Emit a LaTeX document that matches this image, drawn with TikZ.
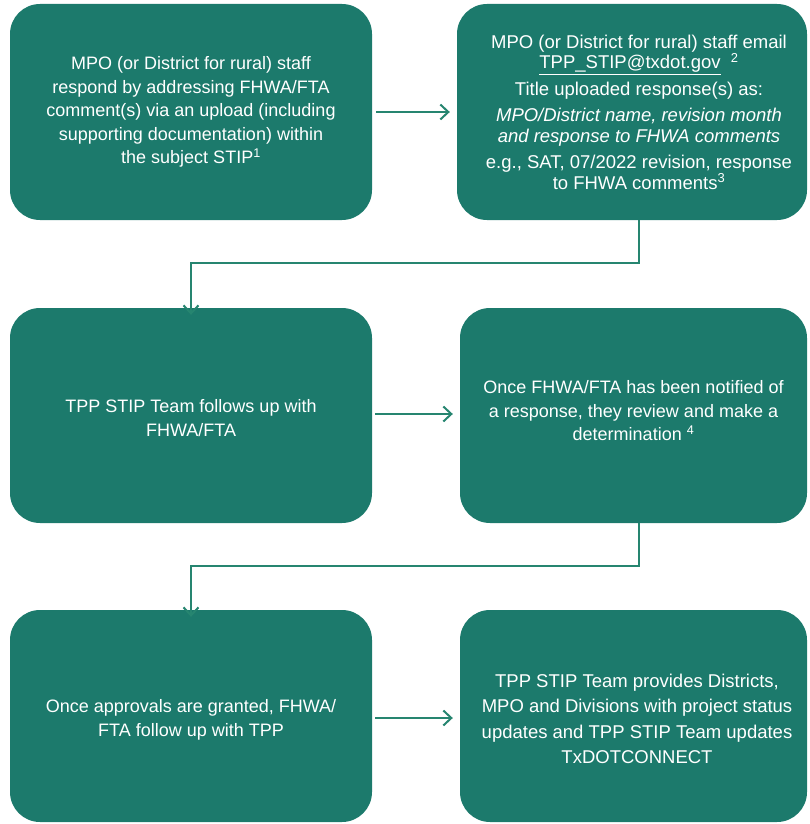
\documentclass[tikz,border=0pt]{standalone}
\usepackage{fontspec}
\setmainfont{Liberation Sans}
\usetikzlibrary{arrows.meta}
\definecolor{boxteal}{RGB}{28,122,108}
\definecolor{linkteal}{RGB}{38,133,112}
\begin{document}
\begin{tikzpicture}[x=1pt,y=-1pt,
  stepbox/.style={fill=boxteal, draw=none, rounded corners=30pt, text=white,
    align=center, font=\fontsize{18}{23.5}\selectfont, inner sep=0pt},
  flow/.style={draw=linkteal, line width=2pt,
    -{Straight Barb[length=8pt,width=15pt,line width=2pt]}}]
\useasboundingbox (0,0) rectangle (809,824);
% boxes
\node[stepbox, minimum width=362pt, minimum height=216pt] (b1) at (191,112) {};
\node[stepbox, minimum width=350pt, minimum height=216pt] (b2) at (632,112) {};
\node[stepbox, minimum width=362pt, minimum height=215pt] (b3) at (191,415.5) {};
\node[stepbox, minimum width=347pt, minimum height=215pt] (b4) at (633.5,415.5) {};
\node[stepbox, minimum width=362pt, minimum height=212pt] (b5) at (191,716) {};
\node[stepbox, minimum width=347pt, minimum height=212pt] (b6) at (633.5,716) {};
% texts
\node[stepbox, fill=none] (t1) at (191,112) {MPO (or District for rural) staff\\respond by addressing FHWA/FTA\\comment(s) via an upload (including\\supporting documentation) within\\the subject STIP\textsuperscript{1}};
\node[stepbox, fill=none, font=\fontsize{18.5}{20.5}\selectfont] (t2) at (639,112) {MPO (or District for rural) staff email\\\underline{TPP\_STIP@txdot.gov}\ \ \textsuperscript{2}\\[6pt]Title uploaded response(s) as:\\[6pt]\textit{MPO/District name, revision month}\\\textit{and response to FHWA comments}\\[6pt]e.g., SAT, 07/2022 revision, response\\to FHWA comments\textsuperscript{3}};
\node[stepbox, fill=none] (t3) at (191,418) {TPP STIP Team follows up with\\FHWA/FTA};
\node[stepbox, fill=none] (t4) at (633.5,411) {Once FHWA/FTA has been notified of\\a response, they review and make a\\determination \textsuperscript{4}};
\node[stepbox, fill=none] (t5) at (191,720) {Once approvals are granted, FHWA/\\FTA follow up with TPP};
\node[stepbox, fill=none, font=\fontsize{18.5}{25.5}\selectfont] (t6) at (637,719) {TPP STIP Team provides Districts,\\MPO and Divisions with project status\\updates and TPP STIP Team updates\\TxDOTCONNECT};
% connectors
\coordinate (k1) at (639,263);
\coordinate (k2) at (191,263);
\coordinate (k3) at (639,566);
\coordinate (k4) at (191,566);
\draw[flow] (b1.east |- 0,112) ++(4,0) -- ([xshift=-7pt]b2.west |- 0,112);
\draw[flow] (b2.south -| k1) -- (k1) -- (k2) -- ([yshift=-7pt]b3.north -| k2);
\draw[flow] (b3.east |- 0,414) ++(3,0) -- ([xshift=-7pt]b4.west |- 0,414);
\draw[flow] (b4.south -| k3) -- (k3) -- (k4) -- ([yshift=-7pt]b5.north -| k4);
\draw[flow] (b5.east |- 0,718) ++(3,0) -- ([xshift=-7pt]b6.west |- 0,718);
\end{tikzpicture}
\end{document}
